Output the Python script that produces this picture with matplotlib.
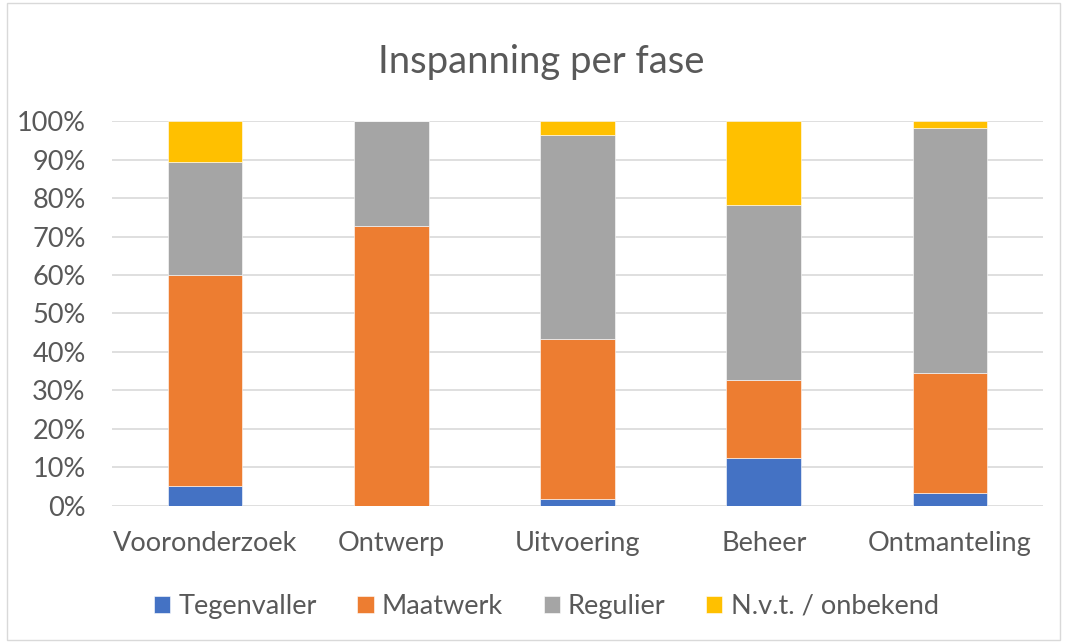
import matplotlib.pyplot as plt
import numpy as np
from matplotlib.patches import Rectangle

# Data (percentages per phase)
phases = ["Vooronderzoek", "Ontwerp", "Uitvoering", "Beheer", "Ontmanteling"]
tegenvaller = [5.2, 0.0, 1.8, 12.5, 3.5]
maatwerk = [54.9, 72.6, 41.7, 20.3, 31.0]
regulier = [29.2, 27.4, 52.9, 45.4, 63.7]
nvt_onbekend = [10.7, 0.0, 3.6, 21.8, 1.8]

series_names = ["Tegenvaller", "Maatwerk", "Regulier", "N.v.t. / onbekend"]
colors = ["#4472C4", "#ED7D31", "#A5A5A5", "#FFC000"]
yticks = [0, 10, 20, 30, 40, 50, 60, 70, 80, 90, 100]

text_color = "#595959"
plt.rcParams['font.family'] = ['Lato', 'DejaVu Sans']

fig = plt.figure(figsize=(10.67, 6.43), dpi=100)
ax = fig.add_axes([0.105, 0.2131, 0.8725, 0.5987])

x = np.arange(len(phases))
bottom = np.zeros(len(phases))
handles = []
for name, vals, col in zip(series_names, [tegenvaller, maatwerk, regulier, nvt_onbekend], colors):
    vals = np.array(vals)
    b = ax.bar(x, vals, width=0.4, bottom=bottom, color=col, label=name,
               edgecolor="white", linewidth=0.4, zorder=3)
    handles.append(b)
    bottom += vals

ax.set_xlim(-0.5, len(phases) - 0.5)
ax.set_ylim(0, 100)
ax.set_yticks(yticks)
ax.set_yticklabels([f"{t}%" for t in yticks], fontsize=19.5, color=text_color)
ax.set_xticks(x)
ax.set_xticklabels(phases, fontsize=19.5, color=text_color)
ax.tick_params(axis="y", length=0, pad=19)
ax.tick_params(axis="x", length=0, pad=18)
ax.grid(axis="y", color="#D9D9D9", linewidth=1.2, zorder=0)
for s in ax.spines.values():
    s.set_visible(False)

fig.text(0.507, 0.903, "Inspanning per fase", ha="center", va="center",
         fontsize=27.5, color=text_color)

fig.legend(handles=handles, labels=series_names, loc="center", ncol=4,
           bbox_to_anchor=(0.512, 0.057), frameon=False, fontsize=19.5,
           labelcolor=text_color, handlelength=0.6, handleheight=0.6,
           handletextpad=0.3, columnspacing=1.5)

fig.patches.append(Rectangle((0.007, 0.004), 0.986, 0.992, transform=fig.transFigure,
                             fill=False, edgecolor="#D9D9D9", linewidth=1.0))

fig.savefig("out.png", dpi=100)
